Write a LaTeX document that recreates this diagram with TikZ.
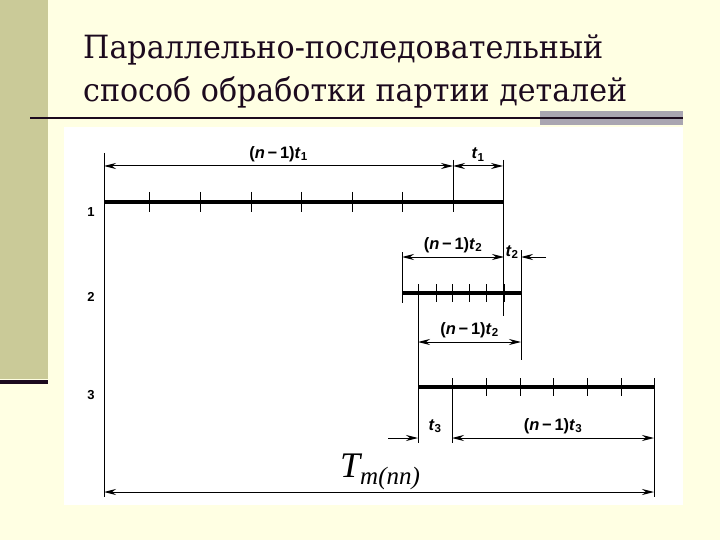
\documentclass[tikz,border=0pt]{standalone}
\usepackage{graphicx}
\usepackage{fontspec}
\setmainfont{Liberation Serif}
\newfontfamily\titlefont{DejaVu Serif}
\newfontfamily\lblfont{Liberation Sans}
\usetikzlibrary{arrows.meta}
\definecolor{cream}{HTML}{FFFFE3}
\definecolor{khaki}{HTML}{CACA98}
\definecolor{bargray}{HTML}{A9A5B1}
\definecolor{titleink}{HTML}{1C0A1E}
\tikzset{
	dim/.style = {{Stealth[length=12pt,width=6pt]}-{Stealth[length=12pt,width=6pt]}, line width=1pt},
	onearrow/.style = {-{Stealth[length=12pt,width=6pt]}, line width=1pt},
	ext/.style = {line width=1pt},
	job/.style = {line width=3.6pt},
	tick/.style = {line width=1pt},
	lbl/.style = {font=\lblfont\bfseries\fontsize{16.5}{16.5}\selectfont, inner sep=1pt},
	rowno/.style = {font=\lblfont\bfseries\fontsize{13}{13}\selectfont},
	heading/.style = {anchor=base west, titleink, inner sep=0pt, font=\titlefont\fontsize{32}{32}\selectfont}
}
\newcommand{\nmo}[1]{(\textit{n}\,−\,1)\textit{t}\textsubscript{#1}}
\begin{document}
\begin{tikzpicture}[x=1pt, y=-1pt]
	\useasboundingbox (0,0) rectangle (720,540);
	\fill [cream] (0,0) rectangle (720,540);
	\fill [khaki] (0,0) rectangle (48,379);
	\draw [titleink, line width=4pt] (0,382) -- (48,382);
	\node [heading] (title1) at (83,59) {\resizebox{520pt}{\height}{Параллельно-последовательный}};
	\node [heading] (title2) at (83,102) {\resizebox{544pt}{\height}{способ обработки партии деталей}};
	\fill [bargray] (540,111) rectangle (683,125);
	\draw [titleink, line width=2pt] (30,118) -- (683,118);
	\fill [white] (64,127) rectangle (683,505);

	% row 1
	\draw [ext] (104,153) -- (104,497);
	\draw [job] (104,202) -- (503,202);
	\foreach \x in {149,200,251,301,352,402,453}
		\draw [tick] (\x,192) -- (\x,212);
	\draw [ext] (453,160) -- (453,212);
	\draw [ext] (503,160) -- (503,316);
	\draw [dim] (104,166) -- (453,166) node [lbl, midway, above=3pt] (a1) {\nmo{1}};
	\draw [dim] (453,166) -- (503,166) node [lbl, midway, above=3pt] (b1) {\textit{t}\textsubscript{1}};
	\node [rowno] (r1) at (91,212) {1};

	% row 2
	\draw [job] (402,293) -- (521,293);
	\foreach \x in {418,436,452,469,486,504}
		\draw [tick] (\x,284) -- (\x,302);
	\draw [ext] (402,252) -- (402,303);
	\draw [ext] (521,250) -- (521,360);
	\draw [dim] (402,257) -- (504,257) node [lbl, midway, above=3pt] (a2) {\nmo{2}};
	\draw [onearrow] (546,257) -- (521,257);
	\node [lbl, anchor=south] (b2) at (512,260) {\textit{t}\textsubscript{2}};
	\draw [dim] (418,342) -- (521,342) node [lbl, midway, above=3pt] (c2) {\nmo{2}};
	\node [rowno] (r2) at (91,297) {2};

	% row 3
	\draw [job] (418,387) -- (654,387);
	\foreach \x in {452,486,520,553,587,621}
		\draw [tick] (\x,378) -- (\x,396);
	\draw [ext] (418,284) -- (418,443);
	\draw [ext] (452,378) -- (452,443);
	\draw [ext] (654,378) -- (654,497);
	\draw [onearrow] (388,438) -- (418,438);
	\node [lbl, anchor=south] (b3) at (435,434) {\textit{t}\textsubscript{3}};
	\draw [dim] (452,438) -- (654,438) node [lbl, midway, above=3pt] (a3) {\nmo{3}};
	\node [rowno] (r3) at (91,395) {3};

	% total
	\draw [dim] (104,492) -- (654,492);
	\node [anchor=base west, font=\itshape, inner sep=0pt] (total) at (340,477) {\fontsize{36}{36}\selectfont T\raisebox{-7pt}{\fontsize{25}{25}\selectfont m(nn)}};
\end{tikzpicture}
\end{document}
